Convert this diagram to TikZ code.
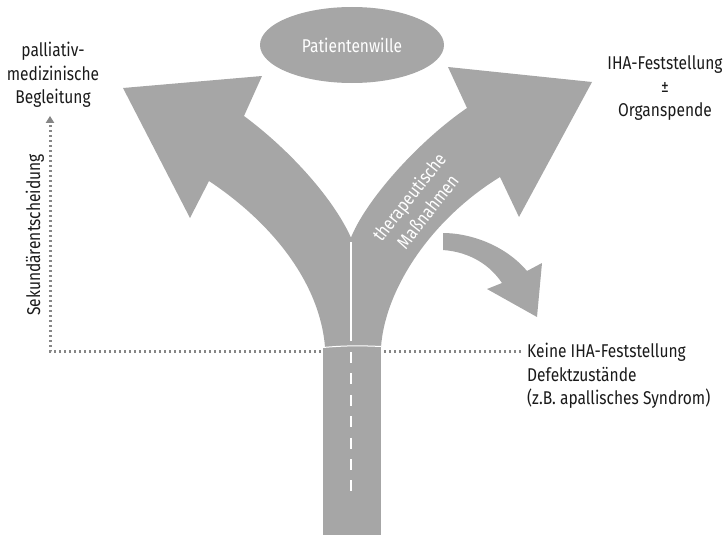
\documentclass[tikz,border=0pt]{standalone}
\usepackage{fontspec}
\setmainfont{Fira Sans}[FakeStretch=0.84]
\usetikzlibrary{arrows.meta,shapes.geometric}
\definecolor{roadgray}{HTML}{A6A6A6}
\definecolor{dotgray}{HTML}{868686}
\definecolor{txtblack}{HTML}{1A1A1A}

\begin{document}
\begin{tikzpicture}[x=1pt,y=-1pt,font=\fontsize{18.5}{23.5}\selectfont]
    \tikzset{road/.style={fill=roadgray,draw=none},
             txt/.style={text=txtblack,align=center,inner sep=0pt},
             dots/.style={draw=dotgray,line width=3pt,dash pattern=on 2.5pt off 2.5pt}}
    \useasboundingbox (0,0) rectangle (725,535);
    \node[txt] (pall) at (53,75) {palliativ-\\medizinische\\Begleitung};
    \node[txt] (organ) at (665,88) {IHA-Feststellung\\±\\Organspende};
    \node[txt,align=left,anchor=west] (keine) at (527,376) {Keine IHA-Feststellung\\Defektzustände\\(z.B. apallisches Syndrom)};
    \node[txt,rotate=90] (sek) at (35,235) {Sekundärentscheidung};
    \node[ellipse,fill=roadgray,minimum width=184pt,minimum height=76pt,inner sep=0pt,text=white] (wille) at (352,45) {Patientenwille};
    \coordinate (knick) at (50,351);
    \draw[dots,shorten <=6pt,shorten >=8pt,-{Triangle[width=8pt,length=7pt]}]
        (knick -| keine.west) -- (knick) -- (knick |- pall.south);
    % Stamm
    \fill[road] (323,347) rectangle (381,535);
    % linker Arm
    \fill[road] (325,347) .. controls (320,285) and (275,225) .. (209,181)
        -- (190,218) -- (123,88) -- (262,76) -- (244,116)
        .. controls (290,150) and (335,200) .. (352,240) -- (352,347) -- cycle;
    % rechter Arm
    \fill[road] (381,347) .. controls (385,290) and (430,220) .. (500,177)
        -- (519,217) -- (592,82) -- (448,67) -- (467,108)
        .. controls (420,140) and (365,200) .. (350,240) -- (350,347) -- cycle;
    % kleiner Pfeil
    \fill[road] (443,233) .. controls (470,233) and (505,245) .. (527,271)
        -- (542,263) -- (537,317) -- (487,289) -- (502,283)
        .. controls (490,265) and (470,252) .. (443,250) -- cycle;
    \draw[white,line width=1.5pt] (351,242) -- (351,341);
    \draw[white,line width=1pt] (323,347.5) .. controls (345,345.5) and (360,345.5) .. (381,346.5);
    \draw[white,line width=2.5pt,dash pattern=on 11pt off 10.4pt] (351,352) -- (351,496);
    \node[text=white,align=center,rotate=52,inner sep=0pt] (massn) at (418,204) {therapeutische\\Maßnahmen};
\end{tikzpicture}
\end{document}
